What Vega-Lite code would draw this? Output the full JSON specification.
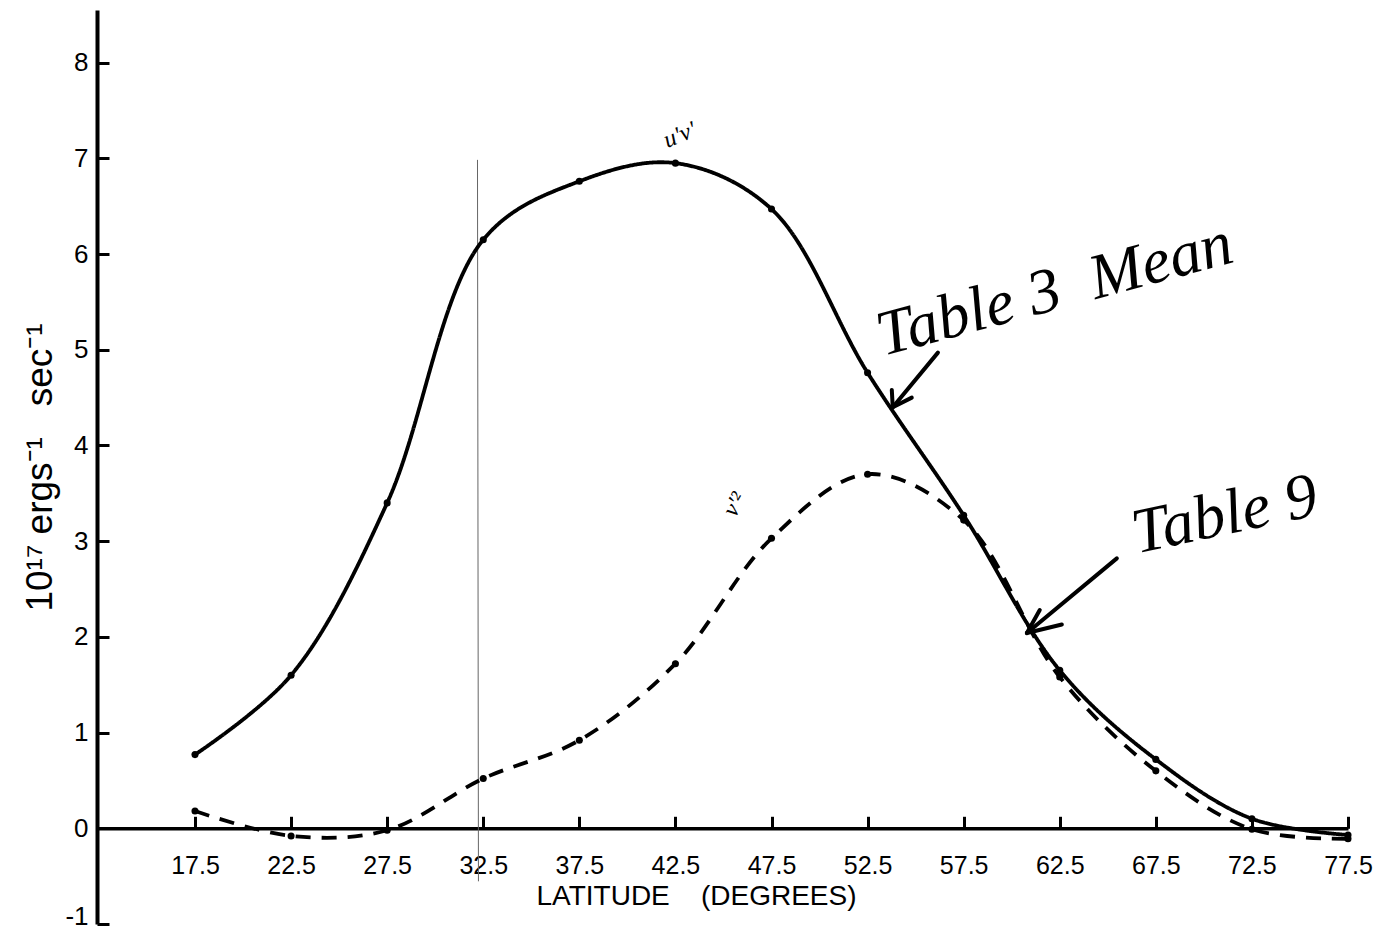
{
  "$schema": "https://vega.github.io/schema/vega-lite/v6.json",
  "width": 1251,
  "height": 914,
  "autosize": "none",
  "padding": {"left": 97, "top": 10, "right": 39, "bottom": 8},
  "background": "white",
  "config": {
    "view": {"stroke": null},
    "axis": {
      "grid": false,
      "domainColor": "black",
      "tickColor": "black",
      "labelColor": "black",
      "titleColor": "black",
      "labelFont": "Liberation Sans",
      "titleFont": "Liberation Sans",
      "titleFontWeight": "normal"
    }
  },
  "datasets": {
    "curves": [
      {"lat": 17.5, "value": 0.77, "series": "Table 3 Mean"},
      {"lat": 22.5, "value": 1.6, "series": "Table 3 Mean"},
      {"lat": 27.5, "value": 3.4, "series": "Table 3 Mean"},
      {"lat": 32.5, "value": 6.15, "series": "Table 3 Mean"},
      {"lat": 37.5, "value": 6.76, "series": "Table 3 Mean"},
      {"lat": 42.5, "value": 6.95, "series": "Table 3 Mean"},
      {"lat": 47.5, "value": 6.47, "series": "Table 3 Mean"},
      {"lat": 52.5, "value": 4.76, "series": "Table 3 Mean"},
      {"lat": 57.5, "value": 3.27, "series": "Table 3 Mean"},
      {"lat": 62.5, "value": 1.65, "series": "Table 3 Mean"},
      {"lat": 67.5, "value": 0.72, "series": "Table 3 Mean"},
      {"lat": 72.5, "value": 0.1, "series": "Table 3 Mean"},
      {"lat": 77.5, "value": -0.07, "series": "Table 3 Mean"},
      {"lat": 17.5, "value": 0.18, "series": "Table 9"},
      {"lat": 22.5, "value": -0.08, "series": "Table 9"},
      {"lat": 27.5, "value": -0.02, "series": "Table 9"},
      {"lat": 32.5, "value": 0.52, "series": "Table 9"},
      {"lat": 37.5, "value": 0.92, "series": "Table 9"},
      {"lat": 42.5, "value": 1.72, "series": "Table 9"},
      {"lat": 47.5, "value": 3.03, "series": "Table 9"},
      {"lat": 52.5, "value": 3.7, "series": "Table 9"},
      {"lat": 57.5, "value": 3.22, "series": "Table 9"},
      {"lat": 62.5, "value": 1.58, "series": "Table 9"},
      {"lat": 67.5, "value": 0.6, "series": "Table 9"},
      {"lat": 72.5, "value": -0.01, "series": "Table 9"},
      {"lat": 77.5, "value": -0.11, "series": "Table 9"}
    ],
    "notes": [
      {"lat": 62.24, "value": 5.62, "label": "Table 3\u00a0\u00a0Mean", "kind": "big", "angle": -15},
      {"lat": 71.09, "value": 3.27, "label": "Table 9", "kind": "big", "angle": -12},
      {"lat": 42.73, "value": 7.24, "label": "u'v'", "kind": "small", "angle": -22},
      {"lat": 45.6, "value": 3.38, "label": "v'²", "kind": "small", "angle": -60}
    ],
    "arrows": [
      {"lat": 56.16, "value": 4.97, "lat2": 53.81, "value2": 4.4, "kind": "ink"},
      {"lat": 53.76, "value": 4.58, "lat2": 53.81, "value2": 4.4, "kind": "ink"},
      {"lat": 54.8, "value": 4.5, "lat2": 53.81, "value2": 4.4, "kind": "ink"},
      {"lat": 65.47, "value": 2.82, "lat2": 60.79, "value2": 2.04, "kind": "ink"},
      {"lat": 61.46, "value": 2.28, "lat2": 60.79, "value2": 2.04, "kind": "ink"},
      {"lat": 62.61, "value": 2.13, "lat2": 60.79, "value2": 2.04, "kind": "ink"},
      {"lat": 32.2, "value": 6.98, "lat2": 32.25, "value2": -0.55, "kind": "pencil"}
    ]
  },
  "encoding": {
    "x": {
      "field": "lat",
      "type": "quantitative",
      "scale": {"domain": [12.4, 77.5], "nice": false, "zero": false},
      "axis": {
        "values": [17.5, 22.5, 27.5, 32.5, 37.5, 42.5, 47.5, 52.5, 57.5, 62.5, 67.5, 72.5, 77.5],
        "format": ".1f",
        "offset": -95.71,
        "tickSize": -12,
        "tickWidth": 3,
        "domainWidth": 3.5,
        "labelFontSize": 25,
        "labelPadding": 37,
        "labelFlush": false,
        "labelOverlap": false,
        "title": "LATITUDE\u00a0\u00a0\u00a0\u00a0(DEGREES)",
        "titleFontSize": 28,
        "titleX": 599,
        "titleY": 68,
        "titleAlign": "center",
        "titleBaseline": "middle",
        "titleAnchor": "start"
      }
    },
    "y": {
      "field": "value",
      "type": "quantitative",
      "scale": {"domain": [-1, 8.55], "nice": false, "zero": false},
      "axis": {
        "values": [-1, 0, 1, 2, 3, 4, 5, 6, 7, 8],
        "labelExpr": "datum.value < 0 ? '-' + abs(datum.value) : datum.label",
        "format": "d",
        "tickSize": -12,
        "tickWidth": 3,
        "domainWidth": 4,
        "labelFontSize": 26,
        "labelPadding": 21,
        "labelOverlap": false,
        "labelFlush": false,
        "labelBaseline": {"condition": {"test": "datum.value < 0", "value": "alphabetic"}, "value": "middle"},
        "title": "10¹⁷\u00a0ergs⁻¹\u00a0\u00a0\u00a0sec⁻¹",
        "titleFontSize": 37,
        "titleAngle": -90,
        "titleX": -57,
        "titleY": 457,
        "titleAlign": "center",
        "titleBaseline": "middle",
        "titleAnchor": "start"
      }
    }
  },
  "layer": [
    {
      "data": {"name": "arrows"},
      "mark": {"type": "rule", "strokeCap": "round"},
      "encoding": {
        "x2": {"field": "lat2"},
        "y2": {"field": "value2"},
        "color": {"field": "kind", "type": "nominal", "scale": {"domain": ["ink", "pencil"], "range": ["black", "#666666"]}, "legend": null},
        "strokeWidth": {"field": "kind", "type": "nominal", "scale": {"domain": ["ink", "pencil"], "range": [4, 1]}, "legend": null}
      }
    },
    {
      "data": {"name": "curves"},
      "mark": {"type": "line", "interpolate": "catmull-rom", "color": "black", "strokeWidth": 3.8},
      "encoding": {
        "detail": {"field": "series", "type": "nominal"},
        "strokeDash": {"field": "series", "type": "nominal", "scale": {"domain": ["Table 3 Mean", "Table 9"], "range": [[1, 0], [15, 11]]}, "legend": null}
      }
    },
    {
      "data": {"name": "curves"},
      "mark": {"type": "point", "filled": true, "color": "black", "size": 50, "opacity": 1}
    },
    {
      "data": {"name": "notes"},
      "mark": {"type": "text", "font": "Liberation Serif", "fontStyle": "italic", "align": "center", "baseline": "middle", "color": "black"},
      "encoding": {
        "text": {"field": "label"},
        "angle": {"field": "angle", "type": "quantitative", "scale": null},
        "size": {"field": "kind", "type": "nominal", "scale": {"domain": ["big", "small"], "range": [64, 24]}, "legend": null}
      }
    }
  ]
}
